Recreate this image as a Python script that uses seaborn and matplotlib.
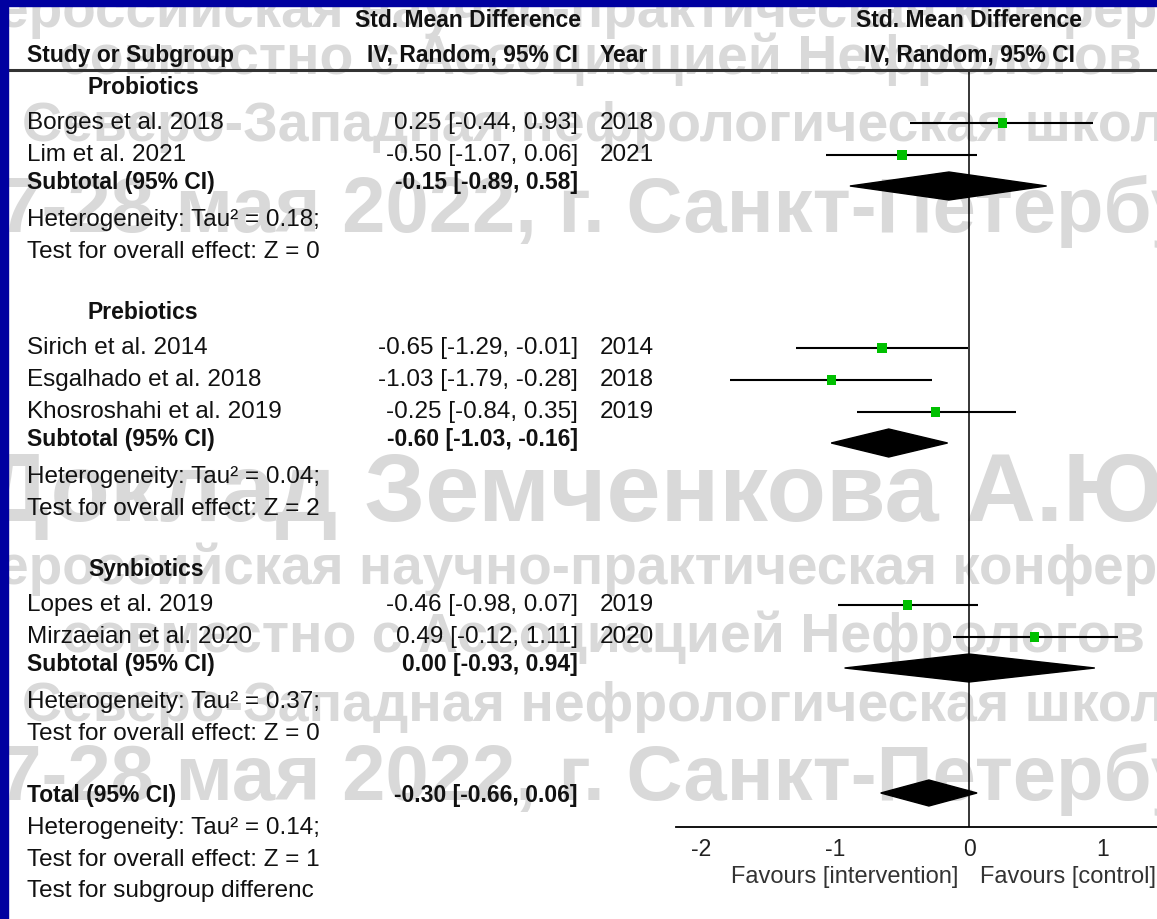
import pandas as pd
import matplotlib.pyplot as plt
import matplotlib.transforms as mtransforms
from matplotlib.patches import Rectangle
import seaborn as sns

# Study-level results (Std. Mean Difference, IV, Random, 95% CI)
studies = ["Borges et al. 2018", "Lim et al. 2021",
           "Sirich et al. 2014", "Esgalhado et al. 2018", "Khosroshahi et al. 2019",
           "Lopes et al. 2019", "Mirzaeian et al. 2020"]
groups = ["Probiotics", "Probiotics",
          "Prebiotics", "Prebiotics", "Prebiotics",
          "Synbiotics", "Synbiotics"]
years = [2018, 2021, 2014, 2018, 2019, 2019, 2020]
smd = [0.25, -0.50, -0.65, -1.03, -0.25, -0.46, 0.49]
ci_low = [-0.44, -1.07, -1.29, -1.79, -0.84, -0.98, -0.12]
ci_high = [0.93, 0.06, -0.01, -0.28, 0.35, 0.07, 1.11]

# Subgroup summaries
subgroups = ["Probiotics", "Prebiotics", "Synbiotics"]
sub_smd = [-0.15, -0.60, 0.00]
sub_low = [-0.89, -1.03, -0.93]
sub_high = [0.58, -0.16, 0.94]
sub_tau2 = ["0.18", "0.04", "0.37"]
sub_z = ["0", "2", "0"]

# Overall
total_smd, total_low, total_high = -0.30, -0.66, 0.06
total_tau2 = "0.14"
total_z = "1"

x_ticks = [-2, -1, 0, 1]

# slide watermark lines
watermark = [
    "Всероссийская научно-практическая конференция",
    "совместно с Ассоциацией Нефрологов",
    "Северо-Западная нефрологическая школа",
    "27-28 мая 2022, г. Санкт-Петербург",
    "Доклад Земченкова А.Ю.",
]

df = pd.DataFrame({"study": studies, "group": groups, "year": years,
                   "smd": smd, "lo": ci_low, "hi": ci_high})

sns.set_style("white")
plt.rcParams["font.family"] = ["Liberation Sans", "DejaVu Sans"]
plt.rcParams["axes.unicode_minus"] = False

W, H = 1157, 919
fig = plt.figure(figsize=(W / 100, H / 100), dpi=100)
fig.patch.set_facecolor("white")

# forest panel: y axis runs in pixel rows (top = header rule, bottom = axis line)
ax = fig.add_axes([676 / W, 1 - 827 / H, (W - 676) / W, (827 - 70) / H])
ax.set_facecolor("none")

# row layout
study_y = [0] * len(studies)
head_y, subt_y, het_y, test_y = [], [], [], []
y = 87
for g in subgroups:
    head_y.append(y)
    y += 36
    for i, gg in enumerate(groups):
        if gg == g:
            study_y[i] = y
            y += 32
    y += 27 - 32
    subt_y.append(y)
    het_y.append(y + 38)
    test_y.append(y + 70)
    y += 130
tot_y = test_y[-1] + 61
df["y"] = study_y

# confidence intervals + point estimates
ax.hlines(df["y"], df["lo"], df["hi"], color="black", lw=1.5, zorder=2)
sns.scatterplot(data=df, x="smd", y="y", marker="s", color="#00c000",
                s=45, edgecolor="none", legend=False, ax=ax, zorder=3)


def diamond(est, lo, hi, yc, h=14):
    ax.fill([lo, est, hi, est], [yc, yc - h, yc, yc + h], color="black", zorder=3)


for k in range(len(subgroups)):
    diamond(sub_smd[k], sub_low[k], sub_high[k], subt_y[k] + 4)
diamond(total_smd, total_low, total_high, tot_y - 2, h=13)

ax.axvline(0, color="black", lw=1.1, zorder=1)
ax.set_xlim(-2.19, 1.405)
ax.set_ylim(827, 70)
ax.set_xticks(x_ticks)
ax.set_xticklabels([str(t) for t in x_ticks])
ax.set_yticks([])
ax.set_xlabel("")
ax.set_ylabel("")
sns.despine(ax=ax, left=True)
ax.spines["bottom"].set_color("black")
ax.spines["bottom"].set_linewidth(1.3)
ax.tick_params(axis="x", direction="in", length=7, width=1.3, color="black",
               labelsize=16.5, labelcolor="#222222", pad=8)

ax.text(-0.08, 877, "Favours [intervention]", ha="right", va="center",
        fontsize=17, color="#333333", clip_on=False)
ax.text(0.08, 877, "Favours [control]", ha="left", va="center",
        fontsize=17, color="#333333", clip_on=False)

# table text on the left (x in figure pixels, y in row pixels)
blend = mtransforms.blended_transform_factory(fig.transFigure, ax.transData)
NORM, BOLD = 17.5, 16.5


def txt(xp, yp, s, bold=False, ha="left", size=None):
    ax.text(xp / W, yp, s, transform=blend, ha=ha, va="center", clip_on=False,
            fontsize=size or (BOLD if bold else NORM),
            fontweight="bold" if bold else "normal", color="#111111")


txt(468, 20, "Std. Mean Difference", bold=True, ha="center")
txt(969, 20, "Std. Mean Difference", bold=True, ha="center")
txt(27, 55, "Study or Subgroup", bold=True)
txt(578, 55, "IV, Random, 95% CI", bold=True, ha="right")
txt(600, 55, "Year", bold=True)
txt(969, 55, "IV, Random, 95% CI", bold=True, ha="center")
ax.plot([8 / W, 1], [70, 70], transform=blend, color="#333333", lw=2.2,
        clip_on=False)

for k, g in enumerate(subgroups):
    txt(88, head_y[k], g, bold=True)
    txt(27, subt_y[k], "Subtotal (95% CI)", bold=True)
    txt(578, subt_y[k], f"{sub_smd[k]:.2f} [{sub_low[k]:.2f}, {sub_high[k]:.2f}]",
        bold=True, ha="right")
    txt(27, het_y[k], f"Heterogeneity: Tau² = {sub_tau2[k]};")
    txt(27, test_y[k], f"Test for overall effect: Z = {sub_z[k]}")

for r in df.itertuples():
    txt(27, r.y, r.study)
    txt(578, r.y, f"{r.smd:.2f} [{r.lo:.2f}, {r.hi:.2f}]", ha="right")
    txt(600, r.y, str(r.year))

txt(27, tot_y, "Total (95% CI)", bold=True)
txt(578, tot_y, f"{total_smd:.2f} [{total_low:.2f}, {total_high:.2f}]",
    bold=True, ha="right")
txt(27, tot_y + 33, f"Heterogeneity: Tau² = {total_tau2};")
txt(27, tot_y + 65, f"Test for overall effect: Z = {total_z}")
txt(27, tot_y + 96, "Test for subgroup differenc")

# watermark (behind everything)
wm_place = [  # (line index, x px, baseline px, size pt, ha)
    (0, -72, 27, 39.5, "left"),
    (1, 1142, 74, 40, "right"),
    (2, 22, 141, 40, "left"),
    (3, -45, 232, 56, "left"),
    (4, -20, 521, 70, "left"),
    (0, -72, 584, 39.5, "left"),
    (1, 1145, 652, 40, "right"),
    (2, 22, 721, 40, "left"),
    (3, -45, 800, 56, "left"),
]
for i, xp, bp, sz, ha in wm_place:
    fig.text(xp / W, 1 - bp / H, watermark[i], ha=ha, va="baseline",
             fontsize=sz, fontweight="bold", color="#d9d9d9", zorder=-1)

# blue slide frame
fig.add_artist(Rectangle((0, 1 - 6 / H), 1, 6 / H, transform=fig.transFigure,
                         color="#0000a0", zorder=10))
fig.add_artist(Rectangle((0, 0), 8 / W, 1, transform=fig.transFigure,
                         color="#0000a0", zorder=10))

fig.savefig("out.png", dpi=100)
plt.close(fig)
